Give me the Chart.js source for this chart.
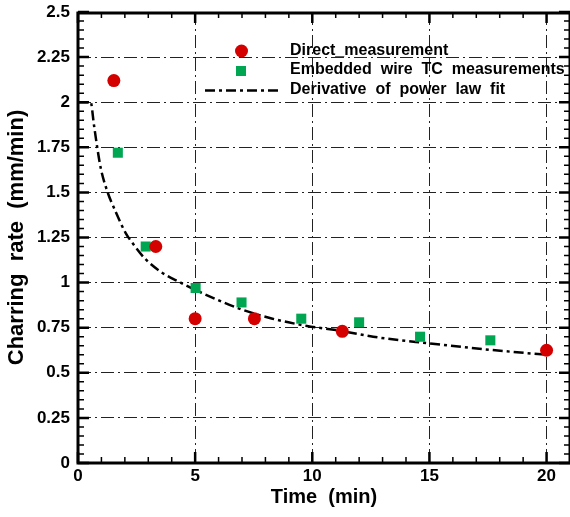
<!DOCTYPE html>
<html>
<head>
<meta charset="utf-8">
<script src="https://cdn.jsdelivr.net/npm/chart.js@4.4.1/dist/chart.umd.min.js"></script>
<style>
  html, body { margin: 0; padding: 0; background: #fff; }
  #wrap { width: 570px; height: 517px; }
</style>
</head>
<body>
<div id="wrap"><canvas id="grafico"></canvas></div>
<script>
// Dados
const diretoX = [1.53, 3.32, 5.0, 7.53, 11.28, 20.0];
const diretoY = [2.12, 1.20, 0.80, 0.80, 0.73, 0.625];

const termoparX = [1.70, 2.89, 5.02, 6.98, 9.53, 12.0, 14.6, 17.6];
const termoparY = [1.72, 1.20, 0.97, 0.89, 0.80, 0.78, 0.70, 0.68];

const ajusteX = [0, 0.54, 0.68, 0.82, 0.97, 1.25, 1.6, 2.03, 2.38, 2.88, 3.59, 4.38, 5.0, 6.94, 8.3, 9.77, 11.2, 12.6, 15.0, 17.7, 20.0];
const ajusteY = [2.0, 2.0, 1.875, 1.75, 1.635, 1.506, 1.395, 1.276, 1.21, 1.13, 1.055, 1.0, 0.96, 0.853, 0.80, 0.76, 0.733, 0.70, 0.663, 0.626, 0.60];

const xTicks = [0, 5, 10, 15, 20];
const yTicks = [0, 0.25, 0.5, 0.75, 1, 1.25, 1.5, 1.75, 2, 2.25, 2.5];
const yTickLabels = ['0', '0.25', '0.5', '0.75', '1', '1.25', '1.5', '1.75', '2', '2.25', '2.5'];

const legendas = ['Direct_measurement', 'Embedded  wire  TC  measurements', 'Derivative  of  power  law  fit'];

const juntar = (xs, ys) => xs.map((x, i) => ({ x: x, y: ys[i] }));

const fonte = 'Liberation Sans, Arial, Helvetica, sans-serif';

// zera o padding automático das escalas (rótulos que "vazam")
const semPadding = (s) => {
    s.paddingTop = 0;
    s.paddingBottom = 0;
    s.paddingLeft = 0;
    s.paddingRight = 0;
};

// Borda grossa + ticks para dentro (estilo Tecplot)
const bordaTicks = {
    id: 'bordaTicks',
    afterDatasetsDraw(chart) {
        const { ctx, chartArea: a, scales } = chart;
        const sx = scales.x, sy = scales.y;
        ctx.save();
        ctx.strokeStyle = '#000';

        // ticks menores
        ctx.lineWidth = 1.5;
        ctx.beginPath();
        for (let v = 1; v < 21; v++) {
            if (v % 5 === 0) continue;
            const px = sx.getPixelForValue(v);
            ctx.moveTo(px, a.bottom); ctx.lineTo(px, a.bottom - 6);
            ctx.moveTo(px, a.top); ctx.lineTo(px, a.top + 6);
        }
        for (let k = 1; k < 50; k++) {
            if (k % 5 === 0) continue;
            const py = sy.getPixelForValue(k * 0.05);
            ctx.moveTo(a.left, py); ctx.lineTo(a.left + 6, py);
            ctx.moveTo(a.right, py); ctx.lineTo(a.right - 6, py);
        }
        ctx.stroke();

        // ticks maiores
        ctx.lineWidth = 2.5;
        ctx.beginPath();
        xTicks.forEach(v => {
            const px = sx.getPixelForValue(v);
            ctx.moveTo(px, a.bottom); ctx.lineTo(px, a.bottom - 11);
            ctx.moveTo(px, a.top); ctx.lineTo(px, a.top + 11);
        });
        yTicks.forEach(v => {
            const py = sy.getPixelForValue(v);
            ctx.moveTo(a.left, py); ctx.lineTo(a.left + 11, py);
            ctx.moveTo(a.right, py); ctx.lineTo(a.right - 11, py);
        });
        ctx.stroke();

        ctx.lineWidth = 3;
        ctx.strokeRect(a.left, a.top + 1, a.right - a.left, a.bottom - a.top - 1);
        ctx.restore();
    }
};

// Legenda dentro da área do gráfico
const legendaInterna = {
    id: 'legendaInterna',
    afterDatasetsDraw(chart) {
        const ctx = chart.ctx;
        const ds = chart.data.datasets;
        ctx.save();

        // círculo
        ctx.fillStyle = ds[0].backgroundColor;
        ctx.beginPath();
        ctx.arc(241.5, 51, ds[0].pointRadius, 0, Math.PI * 2);
        ctx.fill();

        // quadrado
        ctx.fillStyle = ds[1].backgroundColor;
        ctx.fillRect(236, 66, 10, 10);

        // linha traço-ponto
        ctx.strokeStyle = ds[2].borderColor;
        ctx.lineWidth = ds[2].borderWidth;
        ctx.setLineDash(ds[2].borderDash);
        ctx.beginPath();
        ctx.moveTo(205, 90.5);
        ctx.lineTo(278, 90.5);
        ctx.stroke();
        ctx.setLineDash([]);

        ctx.fillStyle = '#000';
        ctx.font = 'bold 16px ' + fonte;
        ctx.textBaseline = 'middle';
        ctx.textAlign = 'left';
        ctx.fillText(legendas[0], 290, 51);
        ctx.fillText(legendas[1], 290, 70);
        ctx.fillText(legendas[2], 290, 90);
        ctx.restore();
    }
};

const ctx = document.getElementById('grafico').getContext('2d');

new Chart(ctx, {
    type: 'scatter',
    data: {
        datasets: [
            {
                label: legendas[0],
                data: juntar(diretoX, diretoY),
                pointStyle: 'circle',
                pointRadius: 6.5,
                backgroundColor: '#d40000',
                borderColor: '#d40000',
                borderWidth: 0,
                order: 1
            },
            {
                label: legendas[1],
                data: juntar(termoparX, termoparY),
                pointStyle: 'rect',
                pointRadius: 7.1,
                backgroundColor: '#00a651',
                borderColor: '#00a651',
                borderWidth: 0,
                order: 2
            },
            {
                type: 'line',
                label: legendas[2],
                data: juntar(ajusteX, ajusteY),
                borderColor: '#000',
                borderWidth: 2.5,
                borderDash: [10, 4, 3, 4],
                pointRadius: 0,
                fill: false,
                cubicInterpolationMode: 'monotone',
                order: 3
            }
        ]
    },
    options: {
        responsive: true,
        maintainAspectRatio: false,
        animation: false,
        // a borda direita fica no limite da imagem, como no original
        layout: { autoPadding: false, padding: { top: 12, right: 0, left: 0, bottom: 8 } },
        plugins: {
            legend: { display: false },
            tooltip: { enabled: false }
        },
        scales: {
            x: {
                type: 'linear',
                min: 0,
                max: 21,
                afterBuildTicks: (s) => { s.ticks = xTicks.map(v => ({ value: v })); },
                afterFit: (s) => { s.height = 46; semPadding(s); },
                ticks: {
                    color: '#000',
                    padding: 3,
                    maxRotation: 0,
                    font: { family: fonte, size: 17, weight: 'bold' }
                },
                grid: { color: '#222', lineWidth: 1, drawTicks: false },
                border: { display: false, dash: [13, 4, 2, 4] },
                title: {
                    display: true,
                    text: 'Time  (min)',
                    color: '#000',
                    padding: { top: 0, bottom: 0 },
                    font: { family: fonte, size: 20, weight: 'bold' }
                }
            },
            y: {
                type: 'linear',
                min: 0,
                max: 2.5,
                afterBuildTicks: (s) => { s.ticks = yTicks.map(v => ({ value: v })); },
                afterFit: (s) => { s.width = 78; semPadding(s); },
                ticks: {
                    color: '#000',
                    padding: 8,
                    callback: (v) => yTickLabels[yTicks.indexOf(v)],
                    font: { family: fonte, size: 17, weight: 'bold' }
                },
                grid: { color: '#222', lineWidth: 1, drawTicks: false },
                border: { display: false, dash: [13, 4, 2, 4] },
                title: {
                    display: true,
                    text: 'Charring  rate  (mm/min)',
                    color: '#000',
                    padding: { top: 4, bottom: 0 },
                    font: { family: fonte, size: 22, weight: 'bold' }
                }
            }
        }
    },
    plugins: [bordaTicks, legendaInterna]
});
</script>
</body>
</html>
